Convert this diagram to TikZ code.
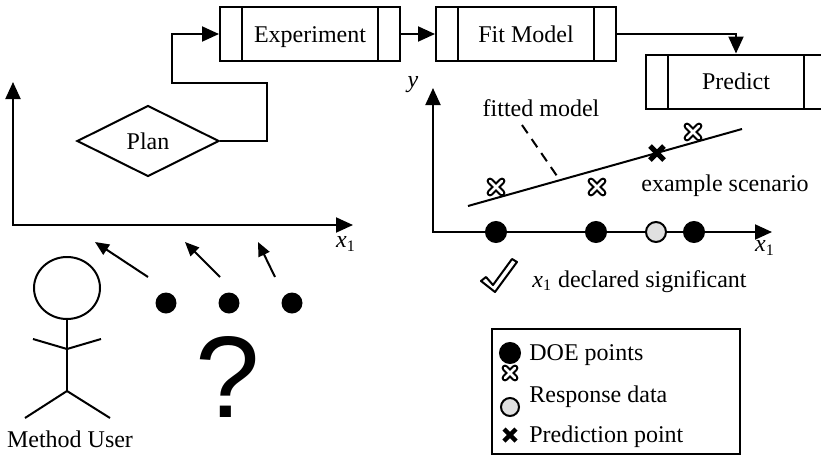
\documentclass[tikz,border=0pt]{standalone}
\usepackage{fontspec}
\setmainfont{Liberation Serif}
\newfontfamily\qfont{Liberation Sans}
\usetikzlibrary{arrows.meta,shapes.geometric}

\tikzset{
  lw/.style={line width=1pt},
  bigtip/.tip={Triangle[length=8.5pt,width=7.5pt]},
  tipped/.style={lw,-bigtip},
  smalltip/.style={lw,-{Triangle[length=7pt,width=6pt]}},
  procbox/.style={draw,lw,minimum width=90pt,minimum height=27pt,inner sep=0pt,
    text height=8pt,text depth=0pt,
    font=\fontsize{12}{14}\selectfont,
    path picture={
      \draw[lw] ([xshift=11pt]path picture bounding box.north west) -- ([xshift=11pt]path picture bounding box.south west);
      \draw[lw] ([xshift=-11pt]path picture bounding box.north east) -- ([xshift=-11pt]path picture bounding box.south east);
    }},
  decision/.style={draw,lw,diamond,aspect=2,minimum width=71pt,minimum height=35.5pt,inner sep=0pt,
    font=\fontsize{12}{14}\selectfont},
  lbl/.style={inner sep=0pt,font=\fontsize{12}{14}\selectfont},
  doe/.style={circle,draw,lw,fill=black,minimum size=10pt,inner sep=0pt},
  pred/.style={circle,draw,lw,fill=black!12,minimum size=10pt,inner sep=0pt},
  userdot/.style={circle,fill=black,minimum size=10.5pt,inner sep=0pt},
}

\begin{document}
\begin{tikzpicture}[x=0.5pt,y=-0.5pt]
\clip (0,0) rectangle (821,456);

% process chain
\node[procbox] (exp) at (310,34) {Experiment};
\node[procbox] (fit) at (526,34) {Fit Model};
\node[procbox] (prd) at (736,81.5) {Predict};
\node[decision] (plan) at (148,141) {Plan};

\draw[tipped] (plan.east) -- (267,141) -- (267,83) -- (172,83) |- (exp.west);
\draw[tipped] (exp.east) -- (fit.west);
\draw[tipped] (fit.east) -| (prd.north);

% left axes
\coordinate (ltop) at (13,82);
\coordinate (lend) at (353,225);
\draw[lw,bigtip-bigtip] (ltop) |- (lend);
\node[lbl] (lx) at (346,244) {\itshape x\textsubscript{\upshape 1}};

% right axes
\coordinate (rtop) at (433,88);
\coordinate (rend) at (772,232);
\draw[lw,bigtip-bigtip] (rtop) |- (rend);
\node[lbl] (ry) at (413,85) {\itshape y};
\node[lbl] (rx) at (765,248) {\itshape x\textsubscript{\upshape 1}};

% fitted model line
\coordinate (fa) at (468,206);
\coordinate (fb) at (742,129);
\draw[lw] (fa) -- (fb);
\node[lbl,anchor=base] (fm) at (541,116) {fitted model};
\coordinate (dashend) at (557,176);
\draw[lw,dashed,dash pattern=on 5pt off 3.5pt] (522,125) -- (dashend);

% design points on the x1 axis
\node[doe] (d1) at (496,232) {};
\node[doe] (d2) at (596,232) {};
\node[pred] (d3) at (656,232) {};
\node[doe] (d4) at (694,232) {};

% response data (hollow crosses)
\foreach \cx/\cy/\s in {496/187/6, 597/187/6, 693/132/6, 510/373/5} {
  \draw[line width=3.4pt,line cap=round] (\cx-\s,\cy-\s) -- (\cx+\s,\cy+\s) (\cx-\s,\cy+\s) -- (\cx+\s,\cy-\s);
  \draw[line width=1.3pt,white,line cap=round] (\cx-\s,\cy-\s) -- (\cx+\s,\cy+\s) (\cx-\s,\cy+\s) -- (\cx+\s,\cy-\s);
}
% prediction point (bold cross)
\draw[line width=2.6pt] (650,146) -- (664,160) (650,160) -- (664,146);
\node[lbl,anchor=base west] (scen) at (641,191) {example scenario};

% significance check mark
\draw[lw,fill=white,line join=round] (481,281) -- (486,277) -- (493,285) -- (512,259) -- (517,262) -- (495,292) -- cycle;
\node[lbl,anchor=base west] (sig) at (532,287) {{\itshape x}\textsubscript{1} declared significant};

% legend
\node[draw,lw,minimum width=124pt,minimum height=62.5pt,inner sep=0pt] (leg) at (615.5,391.5) {};
\node[doe] (ld) at (510,353) {};
\node[lbl,anchor=base west] (lt1) at (529,360) {DOE points};
\node[pred,minimum size=9pt] (lc) at (510,407) {};
\node[lbl,anchor=base west] (lt2) at (529,402) {Response data};
\draw[line width=2.2pt] (504,429) -- (516,441) (504,441) -- (516,429);
\node[lbl,anchor=base west] (lt3) at (529,442) {Prediction point};

% method user
\node[draw,lw,ellipse,minimum width=33pt,minimum height=31pt,inner sep=0pt] (head) at (67,288) {};
\coordinate (hip) at (67,391);
\draw[lw] (head.south) -- (hip);
\draw[lw] (33,339) -- (67,349) -- (101,339);
\draw[lw] (25,418) -- (hip) -- (110,418);
\node[lbl,anchor=base] (user) at (70,447) {Method User};

% candidate points and the question
\node[userdot] (u1) at (166,303) {};
\node[userdot] (u2) at (229,303) {};
\node[userdot] (u3) at (292,303) {};
\coordinate (t1) at (95,242);
\coordinate (t2) at (185,242);
\coordinate (t3) at (258,242);
\draw[smalltip] (148,277) -- (t1);
\draw[smalltip] (220,277) -- (t2);
\draw[smalltip] (275,277) -- (t3);
\node[inner sep=0pt,anchor=base,font=\qfont\fontsize{58}{60}\selectfont] (q) at (228,417) {?};

\end{tikzpicture}
\end{document}
